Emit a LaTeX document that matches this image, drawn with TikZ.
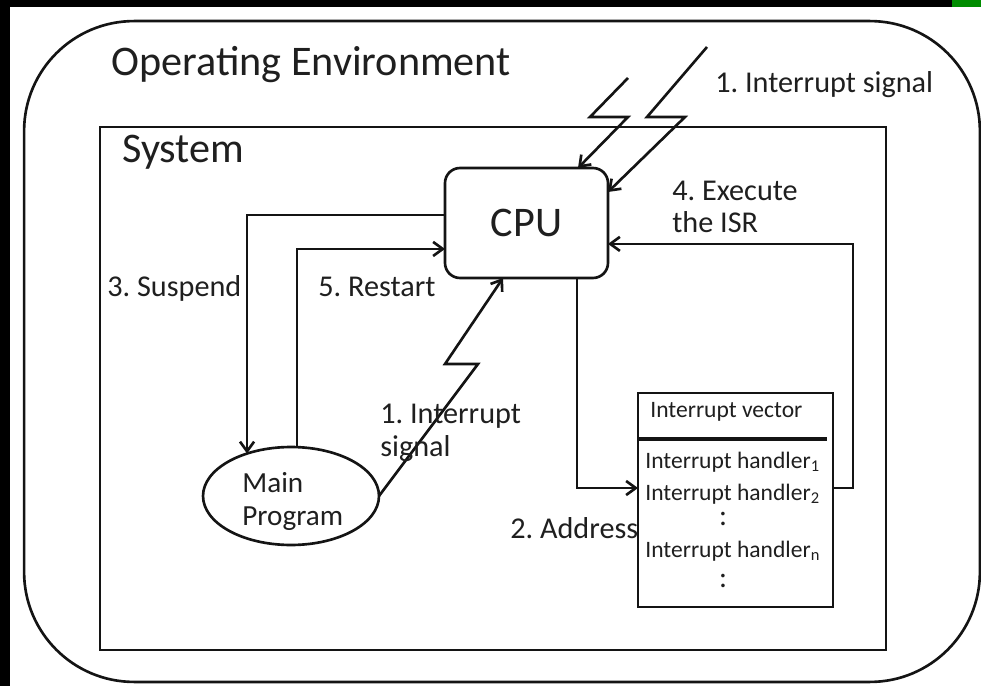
\documentclass[tikz,border=0pt]{standalone}
\usepackage{fontspec}
\setmainfont{Carlito}
\usetikzlibrary{arrows.meta,shapes.geometric,calc}
\frenchspacing
\begin{document}
\begin{tikzpicture}[x=0.02cm,y=-0.02cm,
  frame/.style={draw=black!92, rectangle, inner sep=0, outer sep=0, line width=1.5pt},
  arr/.style={draw=black!92, line width=1.5pt, -{Straight Barb[length=5.5pt,width=8pt]}},
  bigtxt/.style={anchor=base west, inner sep=0, text=black!88, font=\fontsize{24}{28}\selectfont},
  lbl/.style={anchor=base west, inner sep=0, text=black!88, font=\fontsize{17.2}{20}\selectfont},
  mptxt/.style={anchor=base west, inner sep=0, text=black!88, font=\fontsize{16.6}{19}\selectfont},
  small/.style={anchor=base west, inner sep=0, text=black!88, font=\fontsize{13.4}{16}\selectfont},
  dotcol/.style={inner sep=0, text=black!88, font=\fontsize{17}{20}\selectfont},
]
\useasboundingbox (0,0) rectangle (981,686);
% page background and dark edge bands
\fill[white] (0,0) rectangle (981,686);
\fill[black] (0,0) rectangle (981,7);
\fill[black] (0,0) rectangle (10,686);
\fill[green!55!black] (952,0) rectangle (981,7);

% containers
\node[frame, rounded corners=2.2cm, minimum width=19.12cm, minimum height=13.22cm] (env) at (502,351.5) {};
\node[frame, minimum width=15.72cm, minimum height=10.46cm] (sys) at (493,388.5) {};

% main blocks
\node[frame, rounded corners=0.3cm, minimum width=3.26cm, minimum height=2.2cm,
      text=black!88, font=\fontsize{24}{28}\selectfont] (cpu) at (526.5,223) {CPU};
\node[draw=black!92, ellipse, line width=1.5pt, inner sep=0, outer sep=0,
      minimum width=3.52cm, minimum height=1.96cm] (mp) at (291,496) {};
\node[frame, minimum width=3.9cm, minimum height=4.28cm] (vec) at (735.5,500) {};
\draw[black!92, line width=2pt] ($(vec.north west)!0.215!(vec.south west)$) -- ++(189,0);

% titles
\node[bigtxt] (tEnv) at (111,76) {Operating Environment};
\node[bigtxt] (tSys) at (122,163) {System};

% ellipse text
\node[mptxt] (tMain) at (242,492) {Main};
\node[mptxt] (tProg) at (242,525) {Program};

% interrupt vector table
\node[small] (tVec) at (650,417) {Interrupt vector};
\node[small] (h1) at (645,468) {Interrupt handler\textsubscript{1}};
\node[small] (h2) at (645,500) {Interrupt handler\textsubscript{2}};
\node[dotcol] (d1) at (723,519) {:};
\node[small] (hn) at (645,557) {Interrupt handler\textsubscript{n}};
\node[dotcol] (d2) at (723,581) {:};

% connection points
\coordinate (sA) at ($(cpu.north west)!0.427!(cpu.south west)$);
\coordinate (rA) at ($(cpu.north west)!0.736!(cpu.south west)$);
\coordinate (aS) at ($(cpu.south west)!0.81!(cpu.south east)$);
\coordinate (aE) at ($(vec.north west)!0.444!(vec.south west)$);
\coordinate (eS) at ($(vec.north east)!0.444!(vec.south east)$);
\coordinate (eE) at ($(cpu.north east)!0.69!(cpu.south east)$);

% 3. suspend / 5. restart
\draw[arr] (sA) -| (mp.136);
\draw[arr] (mp.83) |- (rA);
% 2. address
\draw[arr] (aS) |- (aE);
% 4. execute the ISR
\draw[arr] (eS) -- ++(20,0) |- (eE);

% interrupt signals (lightning arrows)
\coordinate (b1a) at (628,78);
\coordinate (b1b) at (590,117);
\coordinate (b1c) at (628,117);
\coordinate (b1t) at ($(cpu.north west)!0.816!(cpu.north east)$);
\draw[arr] (b1a) -- (b1b) -- (b1c) -- (b1t);
\coordinate (b2a) at (707,47);
\coordinate (b2b) at (647,117);
\coordinate (b2c) at (685,117);
\coordinate (b2t) at ($(cpu.north east)!0.218!(cpu.south east)$);
\draw[arr] (b2a) -- (b2b) -- (b2c) -- (b2t);
\coordinate (b3b) at (478,364);
\coordinate (b3c) at (445,364);
\coordinate (b3t) at ($(cpu.south west)!0.356!(cpu.south east)$);
\draw[arr] (mp.east) -- (b3b) -- (b3c) -- (b3t);

% labels
\node[lbl] (tSig) at (715,93) {1. Interrupt signal};
\node[lbl] (tExe1) at (672,200) {4. Execute};
\node[lbl] (tExe2) at (672,233) {the ISR};
\node[lbl] (tSus) at (107,296) {3. Suspend};
\node[lbl] (tRes) at (318,296) {5. Restart};
\node[lbl] (tInt1) at (380,423) {1. Interrupt};
\node[lbl] (tInt2) at (380,456) {signal};
\node[lbl] (tAdr) at (510,538) {2. Address};
\end{tikzpicture}
\end{document}
